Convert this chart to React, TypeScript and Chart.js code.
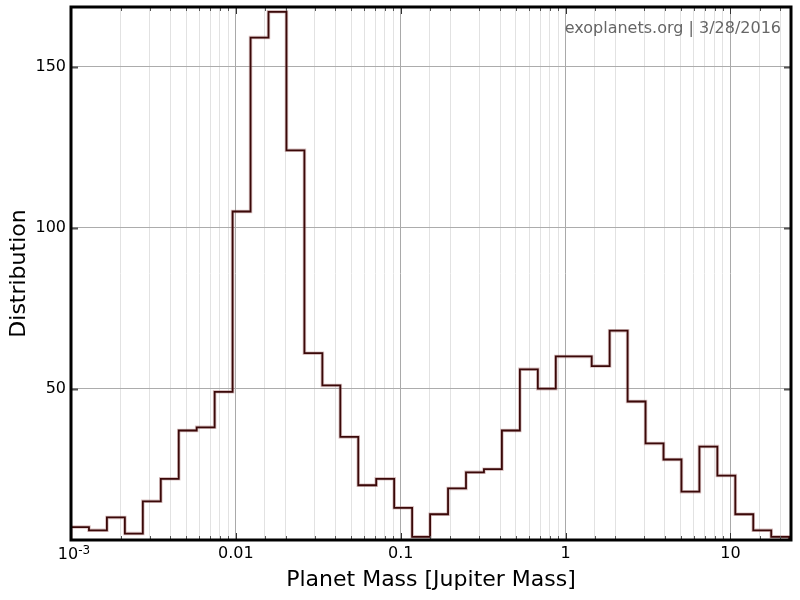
import React, { useEffect, useRef } from 'react';
import { Chart, registerables } from 'chart.js';

Chart.register(...registerables);

// Histogram of planet masses (log-spaced bins, 40 bins)
const LOG_MIN = -3;
const BIN_DEX = 0.1089;
const LOG_AXIS_MAX = 1.367;
const binCounts = [
  7, 6, 10, 5, 15, 22, 37, 38, 49, 105,
  159, 167, 124, 61, 51, 35, 20, 22, 13, 4,
  11, 19, 24, 25, 37, 56, 50, 60, 60, 57,
  68, 46, 33, 28, 18, 32, 23, 11, 6, 4,
];
const majorTickValues = [0.001, 0.01, 0.1, 1, 10];
const majorTickLabels = ['', '0.01', '0.1', '1', '10'];
const minTickBase = '10';
const minTickExp = '-3';
const yTickValues = [50, 100, 150];
const Y_MIN = 3;
const Y_MAX = 168.5;
const X_TITLE = 'Planet Mass [Jupiter Mass]';
const Y_TITLE = 'Distribution';
const WATERMARK = 'exoplanets.org | 3/28/2016';

const FONT = '"DejaVu Sans", Verdana, sans-serif';

const binEdges = Array.from({ length: binCounts.length + 1 }, (_, i) => Math.pow(10, LOG_MIN + i * BIN_DEX));

function isMajor(v: number) {
  const l = Math.log10(v);
  return Math.abs(l - Math.round(l)) < 1e-6;
}

function labelFor(v: number) {
  for (let i = 0; i < majorTickValues.length; i++) {
    if (Math.abs(Math.log10(v) - Math.log10(majorTickValues[i])) < 1e-6) return majorTickLabels[i];
  }
  return '';
}

const framePlugin = {
  id: 'frameAndTicks',
  afterDatasetsDraw(chart: any) {
    const { ctx, chartArea } = chart;
    const { left, right, top, bottom } = chartArea;
    const xs = chart.scales.x;
    const ys = chart.scales.y;
    ctx.save();
    // watermark
    ctx.font = '16px ' + FONT;
    ctx.fillStyle = '#666666';
    ctx.textAlign = 'right';
    ctx.textBaseline = 'alphabetic';
    ctx.fillText(WATERMARK, 781, 33);
    // 10^-3 label at the axis minimum
    const x0 = xs.getPixelForValue(majorTickValues[0]);
    ctx.fillStyle = '#000000';
    ctx.textAlign = 'left';
    ctx.font = '16px ' + FONT;
    const wBase = ctx.measureText(minTickBase).width;
    ctx.font = '12px ' + FONT;
    const wExp = ctx.measureText(minTickExp).width;
    const startX = x0 - (wBase + wExp) / 2 + 3;
    ctx.font = '16px ' + FONT;
    ctx.fillText(minTickBase, startX, bottom + 19);
    ctx.font = '12px ' + FONT;
    ctx.fillText(minTickExp, startX + wBase, bottom + 14);
    // inward ticks
    ctx.lineWidth = 1;
    for (const t of xs.ticks) {
      const px = Math.round(xs.getPixelForValue(t.value)) + 0.5;
      if (px < left + 2 || px > right - 2) continue;
      const major = isMajor(t.value);
      const len = major ? 7 : 4;
      ctx.strokeStyle = major ? '#333333' : '#555555';
      ctx.beginPath();
      ctx.moveTo(px, bottom);
      ctx.lineTo(px, bottom - len);
      ctx.moveTo(px, top);
      ctx.lineTo(px, top + len);
      ctx.stroke();
    }
    ctx.lineWidth = 2;
    ctx.strokeStyle = '#555555';
    for (const v of yTickValues) {
      const py = Math.round(ys.getPixelForValue(v)) + 0.5;
      ctx.beginPath();
      ctx.moveTo(left, py);
      ctx.lineTo(left + 7, py);
      ctx.moveTo(right, py);
      ctx.lineTo(right - 7, py);
      ctx.stroke();
    }
    // frame
    ctx.lineWidth = 3;
    ctx.strokeStyle = '#000000';
    ctx.strokeRect(left, top, right - left, bottom - top);
    ctx.restore();
  },
};

export default function App() {
  const canvasRef = useRef<HTMLCanvasElement | null>(null);

  useEffect(() => {
    if (!canvasRef.current) return;
    const points = [
      { x: binEdges[0], y: 0 },
      ...binCounts.map((c, i) => ({ x: binEdges[i], y: c })),
      { x: binEdges[binEdges.length - 1], y: 0 },
    ];
    const chart = new Chart(canvasRef.current, {
      type: 'line',
      data: {
        datasets: [
          {
            data: points,
            stepped: true,
            borderColor: '#3a0808',
            borderWidth: 1.8,
            pointRadius: 0,
            fill: false,
          },
          {
            data: points,
            stepped: true,
            borderColor: 'rgba(160, 100, 100, 0.4)',
            borderWidth: 3.5,
            pointRadius: 0,
            fill: false,
          },
        ],
      },
      options: {
        animation: false,
        responsive: true,
        maintainAspectRatio: false,
        layout: { padding: { left: 0, right: 9, top: 7, bottom: 0 } },
        plugins: { legend: { display: false }, tooltip: { enabled: false } },
        scales: {
          x: {
            type: 'logarithmic',
            min: Math.pow(10, LOG_MIN),
            max: Math.pow(10, LOG_AXIS_MAX),
            border: { display: false },
            grid: {
              drawTicks: false,
              lineWidth: 1,
              color: (c: any) => (c.tick && isMajor(c.tick.value) ? '#a9a9a9' : '#e2e2e2'),
            },
            ticks: {
              autoSkip: false,
              maxRotation: 0,
              padding: 4,
              color: '#000000',
              font: { family: FONT, size: 16 },
              callback: (v: any) => labelFor(Number(v)),
            },
            title: {
              display: true,
              text: X_TITLE,
              color: '#000000',
              font: { family: FONT, size: 22 },
              padding: { top: 0, bottom: 7 },
            },
            afterFit: (s: any) => {
              s.height = 60;
              s.paddingLeft = 0;
              s.paddingRight = 0;
            },
          },
          y: {
            type: 'linear',
            min: Y_MIN,
            max: Y_MAX,
            border: { display: false },
            afterBuildTicks: (s: any) => {
              s.ticks = yTickValues.map((v) => ({ value: v }));
            },
            grid: { drawTicks: false, lineWidth: 1, color: '#acacac' },
            ticks: {
              padding: 5,
              color: '#000000',
              font: { family: FONT, size: 16 },
            },
            title: {
              display: true,
              text: Y_TITLE,
              color: '#000000',
              font: { family: FONT, size: 22 },
              padding: { top: 6, bottom: 0 },
            },
            afterFit: (s: any) => {
              s.width = 71;
              s.paddingTop = 0;
              s.paddingBottom = 0;
            },
          },
        },
      },
      plugins: [framePlugin],
    });
    return () => chart.destroy();
  }, []);

  return (
    <div style={{ position: 'absolute', left: 0, top: 0, width: 800, height: 600, background: '#fff' }}>
      <canvas ref={canvasRef} />
    </div>
  );
}
